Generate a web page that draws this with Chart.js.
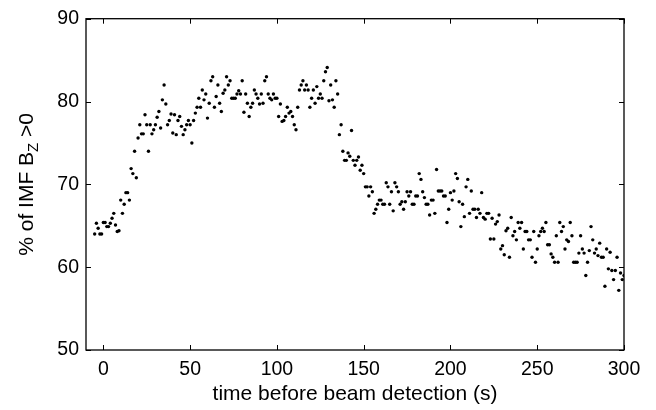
<!DOCTYPE html>
<html><head><meta charset="utf-8">
<script src="https://cdn.jsdelivr.net/npm/chart.js@4/dist/chart.umd.min.js"></script>
<style>html,body{margin:0;padding:0;background:#fff}#wrap{width:656px;height:410px}</style>
</head><body><div id="wrap"><canvas id="c" width="656" height="410"></canvas></div>
<script>
const timeBeforeDetection = [
-5,-4,-3,-2,-1,0,1,2,3,4,5,6,7,8,9,10,11,12,13,14,15,16,17,18,19,20,21,22,23,24,
25,26,27,28,29,30,31,32,33,34,35,36,37,38,39,40,41,42,43,44,45,46,47,48,49,50,51,52,53,54,
55,56,57,58,59,60,61,62,63,64,65,66,67,68,69,70,71,72,73,74,75,76,77,78,79,80,81,82,83,84,
85,86,87,88,89,90,91,92,93,94,95,96,97,98,99,100,101,102,103,104,105,106,107,108,109,110,111,112,113,114,
115,116,117,118,119,120,121,122,123,124,125,126,127,128,129,130,131,132,133,134,135,136,137,138,139,140,141,142,143,144,
145,146,147,148,149,150,151,152,153,154,155,156,157,158,159,160,161,162,163,164,165,166,167,168,169,170,171,172,173,174,
175,176,177,178,179,180,181,182,183,184,185,186,187,188,189,190,191,192,193,194,195,196,197,198,199,200,201,202,203,204,
205,206,207,208,209,210,211,212,213,214,215,216,217,218,219,220,221,222,223,224,225,226,227,228,229,230,231,232,233,234,
235,236,237,238,239,240,241,242,243,244,245,246,247,248,249,250,251,252,253,254,255,256,257,258,259,260,261,262,263,264,
265,266,267,268,269,270,271,272,273,274,275,276,277,278,279,280,281,282,283,284,285,286,287,288,289,290,291,292,293,294,
295,296,297,298,299,300];
const percentBzPositive = [
64.0,65.3,64.7,64.0,64.0,65.4,65.4,64.9,64.9,65.3,
65.9,66.5,65.1,64.3,64.4,68.1,66.5,67.6,69.0,69.0,
68.1,71.9,71.3,74.0,70.8,75.6,77.2,76.1,76.1,78.4,
77.2,74.0,77.2,76.1,76.6,77.2,78.1,78.8,76.8,80.2,
82.0,79.7,77.2,77.7,78.5,76.2,78.4,76.0,77.7,78.2,
77.0,76.0,76.6,77.2,77.7,77.2,75.0,77.7,78.6,79.3,
80.4,79.3,81.4,80.2,80.9,78.0,79.8,82.5,83.0,79.3,
80.6,82.0,79.8,78.8,81.0,81.4,83.0,82.0,82.5,80.4,
80.4,80.4,80.9,81.3,80.9,82.5,78.7,80.9,79.8,78.2,
79.3,79.8,81.4,80.9,80.4,79.7,80.9,79.8,82.5,83.0,
80.9,80.4,80.2,80.9,80.4,80.4,78.2,79.7,77.6,77.7,
78.2,79.3,78.6,78.8,78.2,77.2,76.6,79.3,81.4,82.0,
82.5,81.4,82.0,81.4,79.3,80.4,81.4,79.8,81.8,80.4,
80.9,80.4,82.5,83.6,84.1,80.1,82.0,80.2,79.3,82.5,
80.9,76.0,77.2,74.0,72.9,72.9,73.8,73.4,76.5,72.9,
72.3,72.9,73.3,71.7,72.3,71.3,69.7,69.7,68.6,69.7,
69.1,66.5,67.0,67.6,68.1,68.1,67.6,67.6,70.2,69.7,
67.6,69.1,66.8,70.2,69.7,69.1,67.6,67.9,67.0,67.9,
69.1,68.6,69.1,67.6,67.6,68.6,68.6,71.3,70.6,69.1,
68.4,67.6,67.6,66.3,68.1,68.1,66.5,71.8,69.2,69.2,
69.2,68.6,68.6,65.4,67.0,69.0,68.1,69.2,71.3,70.7,
67.9,64.9,67.6,66.1,69.7,70.6,66.5,69.2,67.0,67.0,
66.0,67.0,66.5,69.0,66.0,65.8,66.5,66.5,63.4,65.9,
63.4,65.2,65.5,66.3,62.2,62.6,61.5,64.4,64.7,61.2,
66.0,63.8,64.3,63.3,65.4,64.7,65.4,62.2,64.3,64.3,
63.3,63.3,61.2,64.3,60.6,62.2,63.8,64.3,64.7,64.3,
65.4,62.7,62.7,61.6,61.2,60.6,63.8,60.6,65.4,64.3,
64.9,62.2,63.3,63.1,65.4,63.8,60.6,60.6,60.6,61.7,
63.8,62.2,61.7,59.0,60.6,62.0,64.9,63.3,61.7,62.2,
61.4,62.9,61.2,61.2,57.7,62.2,59.8,61.8,59.6,58.5,59.6,61.2,57.2,59.3,58.5,59.0];
const xTickValues = [0,50,100,150,200,250,300];
const yTickValues = [50,60,70,80,90];
const xRange = [-10, 300];
const yRange = [50, 90];
const xAxisTitle = 'time before beam detection (s)';
const yAxisTitleParts = ['% of IMF B', 'Z', ' >0'];

const FONT = '"Liberation Sans", Arial, Helvetica, sans-serif';

const framePlugin = {
  id: 'frame',
  afterDraw(chart) {
    const ctx = chart.ctx;
    const {left, right, top, bottom} = chart.chartArea;
    const xs = chart.scales.x, ys = chart.scales.y;
    ctx.save();
    ctx.strokeStyle = '#000';
    ctx.lineWidth = 1.3;
    ctx.strokeRect(left, top, right - left, bottom - top);
    ctx.lineWidth = 1;
    const tl = 5;
    ctx.beginPath();
    xTickValues.forEach(v => {
      const p = Math.round(xs.getPixelForValue(v)) + 0.5;
      ctx.moveTo(p, bottom); ctx.lineTo(p, bottom - tl);
      ctx.moveTo(p, top); ctx.lineTo(p, top + tl);
    });
    yTickValues.forEach(v => {
      const p = Math.round(ys.getPixelForValue(v)) + 0.5;
      ctx.moveTo(left, p); ctx.lineTo(left + tl, p);
      ctx.moveTo(right, p); ctx.lineTo(right - tl, p);
    });
    ctx.stroke();
    // x axis title
    ctx.fillStyle = '#000';
    ctx.font = '21px ' + FONT;
    ctx.textAlign = 'center';
    ctx.textBaseline = 'middle';
    ctx.fillText(xAxisTitle, (left + right) / 2, 394);
    // y axis title with subscript
    const big = '21px ' + FONT, small = '15px ' + FONT;
    ctx.font = big;
    const w0 = ctx.measureText(yAxisTitleParts[0]).width;
    const w2 = ctx.measureText(yAxisTitleParts[2]).width;
    ctx.font = small;
    const w1 = ctx.measureText(yAxisTitleParts[1]).width;
    const total = w0 + w1 + w2;
    ctx.translate(26, (top + bottom) / 2);
    ctx.rotate(-Math.PI / 2);
    ctx.textAlign = 'left';
    ctx.textBaseline = 'alphabetic';
    let x0 = -total / 2;
    ctx.font = big; ctx.fillText(yAxisTitleParts[0], x0, 7);
    x0 += w0;
    ctx.font = small; ctx.fillText(yAxisTitleParts[1], x0, 12);
    x0 += w1;
    ctx.font = big; ctx.fillText(yAxisTitleParts[2], x0, 7);
    ctx.restore();
  }
};

new Chart(document.getElementById('c'), {
  type: 'scatter',
  data: {
    datasets: [{
      data: timeBeforeDetection.map((t, i) => ({x: t, y: percentBzPositive[i]})),
      pointRadius: 1.7,
      pointBackgroundColor: '#000',
      pointBorderWidth: 0,
      showLine: false
    }]
  },
  options: {
    responsive: false,
    animation: false,
    devicePixelRatio: 1,
    layout: {padding: {left: 0, top: 15, right: 32, bottom: 0}},
    plugins: {legend: {display: false}, tooltip: {enabled: false}},
    scales: {
      x: {
        type: 'linear', min: xRange[0], max: xRange[1],
        afterBuildTicks: s => { s.ticks = xTickValues.map(v => ({value: v})); },
        afterFit: s => { s.height = 60; },
        grid: {display: false, drawTicks: false},
        border: {display: false},
        ticks: {color: '#000', font: {family: FONT, size: 19.5}, padding: 8, maxRotation: 0, autoSkip: false}
      },
      y: {
        type: 'linear', min: yRange[0], max: yRange[1],
        afterBuildTicks: s => { s.ticks = yTickValues.map(v => ({value: v})); },
        afterFit: s => { s.width = 86; },
        grid: {display: false, drawTicks: false},
        border: {display: false},
        ticks: {color: '#000', font: {family: FONT, size: 19.5}, padding: 7, autoSkip: false}
      }
    }
  },
  plugins: [framePlugin]
});
</script>
</body></html>
